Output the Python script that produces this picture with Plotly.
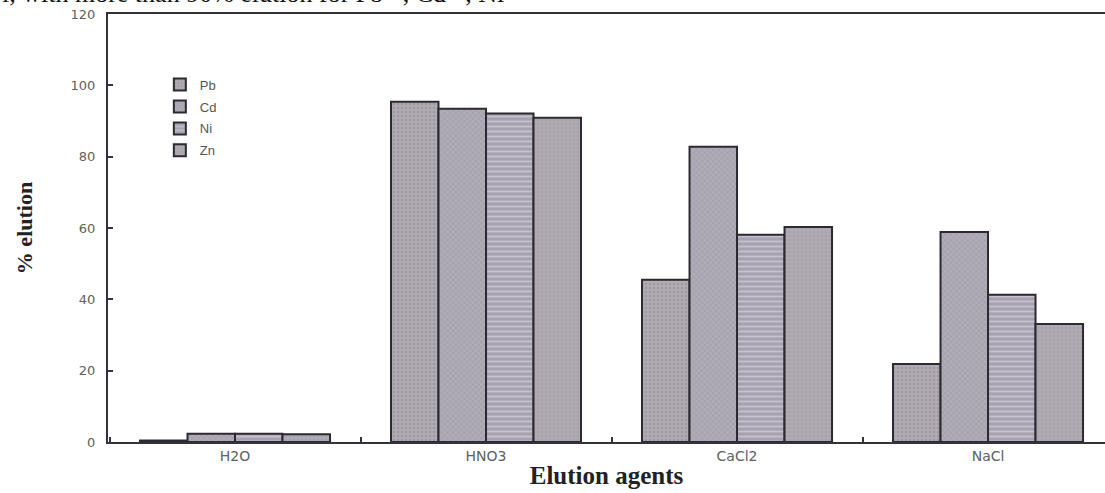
import plotly.graph_objects as go

# Elution agents and % elution of each metal ion
agents = ["H2O", "HNO3", "CaCl2", "NaCl"]
metals = ["Pb", "Cd", "Ni", "Zn"]
pb_elution = [0.4, 95.4, 45.5, 21.9]
cd_elution = [2.3, 93.4, 82.8, 58.9]
ni_elution = [2.3, 92.1, 58.1, 41.3]
zn_elution = [2.2, 90.9, 60.3, 33.1]
y_ticks = [0, 20, 40, 60, 80, 100, 120]

series = [pb_elution, cd_elution, ni_elution, zn_elution]

# Fill pattern for each metal's bars
patterns = {
    "Pb": dict(shape=".", bgcolor="#b3aab3", fgcolor="#7d8c93", size=4, solidity=0.35),
    "Cd": dict(shape="x", bgcolor="#b2acb6", fgcolor="#7f8894", size=4, solidity=0.3),
    "Ni": dict(shape="-", bgcolor="#a8a2b0", fgcolor="#e4e2ef", size=5, solidity=0.35),
    "Zn": dict(shape="+", bgcolor="#b4acb5", fgcolor="#838c97", size=4, solidity=0.3),
}

fig = go.Figure()
for name, vals in zip(metals, series):
    fig.add_trace(go.Bar(
        x=agents,
        y=vals,
        name=name,
        legendgroup=name,
        marker=dict(
            color=patterns[name]["bgcolor"],
            pattern=patterns[name],
            line=dict(color="#2c2a30", width=2),
        ),
    ))

axis_color = "#33333d"

fig.update_layout(
    width=1105,
    height=493,
    margin=dict(l=108, r=0, t=14, b=51),
    paper_bgcolor="white",
    plot_bgcolor="white",
    barmode="group",
    bargap=0.243,
    bargroupgap=0,
    font=dict(family="Liberation Sans, Arial, sans-serif", color="#555555"),
    legend=dict(
        x=0.052, y=0.87, xanchor="left", yanchor="top",
        bgcolor="rgba(0,0,0,0)",
        font=dict(size=13, color="#555555"),
        tracegroupgap=2,
    ),
    xaxis=dict(
        type="category",
        range=[-0.506, 3.466],
        tickson="boundaries",
        ticks="inside",
        ticklen=5,
        tickwidth=2,
        tickcolor=axis_color,
        showline=True,
        linecolor=axis_color,
        linewidth=2,
        mirror=True,
        showgrid=False,
        tickfont=dict(size=14, family="DejaVu Sans, sans-serif", color="#606060"),
        title=dict(
            text="Elution agents",
            font=dict(family="Liberation Serif, Times New Roman, serif", size=25, color="#222222", weight="bold"),
            standoff=4,
        ),
    ),
    yaxis=dict(
        range=[0, 120],
        tickvals=y_ticks,
        ticks="inside",
        ticklen=5,
        tickwidth=2,
        tickcolor=axis_color,
        showline=True,
        linecolor=axis_color,
        linewidth=2,
        showgrid=False,
        zeroline=False,
        ticklabelstandoff=8,
        tickfont=dict(size=13, family="DejaVu Sans, sans-serif", color="#606060"),
        title=dict(
            text="% elution",
            font=dict(family="Liberation Serif, Times New Roman, serif", size=22, color="#222222", weight="bold"),
            standoff=32,
        ),
    ),
)

# Caption line running along the top edge
fig.add_annotation(
    text="l, with more than 90% elution for Pb<sup>2+</sup>, Cd<sup>2+</sup>, Ni",
    xref="paper", yref="paper",
    x=-0.108, y=1.0095,
    xanchor="left", yanchor="bottom",
    showarrow=False,
    font=dict(family="Liberation Serif, Times New Roman, serif", size=26, color="#111111"),
)

fig.write_html("out.html")
